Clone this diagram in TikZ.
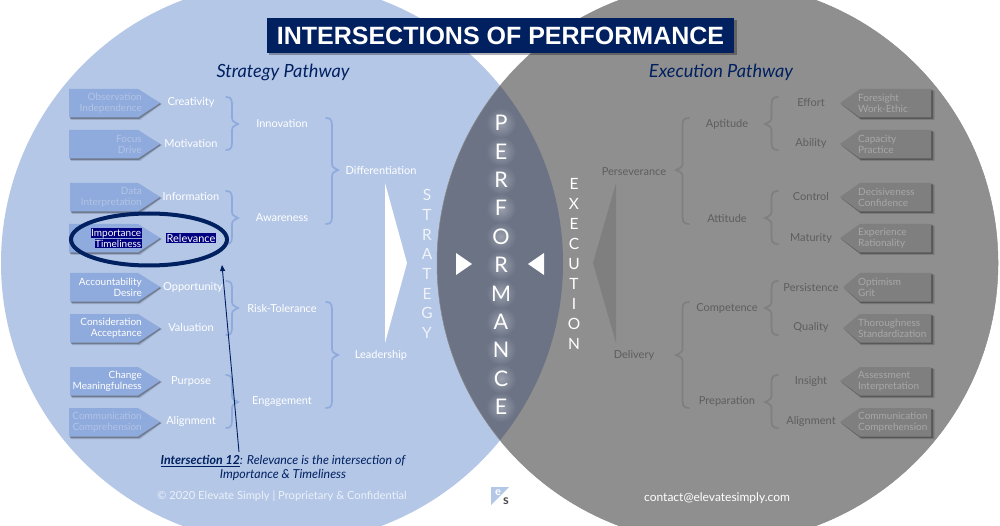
\documentclass[tikz,border=0pt]{standalone}
\usepackage{fontspec}
\setmainfont{Lato}
\newfontfamily\titlefont{Liberation Sans}
\usetikzlibrary{fadings,arrows.meta}
\definecolor{lblue}{HTML}{B4C7E7}
\definecolor{rgrey}{HTML}{8F8F8F}
\definecolor{lensc}{HTML}{6B7385}
\definecolor{navy}{HTML}{002060}
\definecolor{chevl}{HTML}{8FAADC}
\definecolor{chevr}{HTML}{7F7F7F}
\definecolor{darkt}{HTML}{5E5E5E}
\definecolor{fadet}{HTML}{B2C4E5}
\definecolor{fadeg}{HTML}{A8A8A8}
\definecolor{hilite}{HTML}{000080}
\tikzfading[name=glowfade, inner color=transparent!68, outer color=transparent!100]
\newcommand\fs[2]{\fontsize{#1}{#2}\selectfont}
\tikzset{
  x=1pt,y=-1pt,
  lab/.style={text=white,font=\fs{11}{13},inner sep=0pt},
  rlab/.style={text=darkt,font=\fs{11}{13},inner sep=0pt},
  chl/.style={font=\fs{10}{11},align=right,anchor=east,inner sep=0pt},
  chr/.style={font=\fs{10}{11},align=left,anchor=west,inner sep=0pt,text=fadeg},
  lbrace/.style={draw=chevl,line width=1.7pt,line cap=round},
  rbrace/.style={draw=chevr,line width=1.7pt,line cap=round},
  stack/.style={align=center,inner sep=0pt,text=white},
}
\newcommand\lchev[5][69]{%
  \fill[black,opacity=.14] (#1+2,#2+3) -- (140,#2+3) -- (162,#2+15) -- (140,#2+31) -- (#1+2,#2+31) -- cycle;
  \fill[black,opacity=.28] (#1+1,#2+1) -- (139,#2+1) -- (161,#2+15) -- (139,#2+30) -- (#1+1,#2+30) -- cycle;
  \fill[chevl] (#1,#2) -- (138,#2) -- (160,#2+14) -- (138,#2+28.5) -- (#1,#2+28.5) -- cycle;
  \node[chl,text=#3] (#4) at (142,#2+14) {#5};
}
\newcommand\rchev[4][840]{%
  \fill[black,opacity=.14] (#1+2,#2+16) -- (861,#2+2) -- (934.5,#2+2) -- (934.5,#2+31) -- (861,#2+31) -- cycle;
  \fill[black,opacity=.28] (#1+1,#2+15) -- (861,#2+1) -- (933,#2+1) -- (933,#2+30) -- (861,#2+30) -- cycle;
  \fill[chevr] (#1,#2+14) -- (860,#2) -- (931,#2) -- (931,#2+28.5) -- (860,#2+28.5) -- cycle;
  \node[chr] (#3) at (858,#2+14) {#4};
}
\newcommand\mybrace[6]{%
  \draw[#1] (#2,#4) .. controls ({(#2+#3)/2},#4) and ({(#2+#3)/2},#4+3) .. ({(#2+#3)/2},#4+11)
    -- ({(#2+#3)/2},#5-9) .. controls ({(#2+#3)/2},#5-3) .. (#3,#5)
    .. controls ({(#2+#3)/2},#5+3) .. ({(#2+#3)/2},#5+9)
    -- ({(#2+#3)/2},#6-11) .. controls ({(#2+#3)/2},#6-3) and ({(#2+#3)/2},#6) .. (#2,#6);
}
\newcommand\hl[1]{{\setlength{\fboxsep}{0.6pt}\colorbox{hilite}{#1}}}
\begin{document}
\begin{tikzpicture}
\useasboundingbox (0,0) rectangle (1000,526);
\fill[white] (0,0) rectangle (1000,526);
\fill[lblue] (282,263) circle[radius=281];
\fill[rgrey] (717.5,263) circle[radius=280.5];
\begin{scope}
  \clip (282,263) circle[radius=281];
  \fill[lensc] (717.5,263) circle[radius=280.5];
\end{scope}
\draw[black!45,line width=.5pt] (717.5,263) circle[radius=280.5];
\fill[black,opacity=.3] (269,20) rectangle (736.5,55.5);
\node[fill=navy,text=white,minimum width=467pt,minimum height=35pt,inner sep=0pt,
  font=\titlefont\bfseries\fs{25}{28}] (title) at (500.5,35.5) {INTERSECTIONS OF PERFORMANCE};
\node[text=navy,font=\itshape\fs{18.2}{20},inner sep=0pt] (strat) at (283,72) {Strategy Pathway};
\node[text=navy,font=\itshape\fs{18.2}{20},inner sep=0pt] (exec) at (721,72) {Execution Pathway};
\lchev{89}{fadet}{c1}{Observation\\Independence}
\lchev{130}{fadet}{c2}{Focus\\Drive}
\lchev[70]{183}{fadet}{c3}{Data\\Interpretation}
\lchev{224}{white}{c4}{\hl{Importance}\\\hl{Timeliness}}
\lchev[70]{273}{white}{c5}{Accountability\\Desire}
\lchev[70]{314}{white}{c6}{Consideration\\Acceptance}
\lchev[70]{367}{white}{c7}{Change\\Meaningfulness}
\lchev{408}{fadet}{c8}{Communication\\Comprehension}
\node[lab] (l1) at (191,102.5) {Creativity};
\node[lab] (l2) at (191,143.5) {Motivation};
\node[lab] (l3) at (191,196.5) {Information};
\node[lab] (l4) at (191,238) {\hl{Relevance}};
\node[lab] (l5) at (193,287.5) {Opportunity};
\node[lab] (l6) at (191,327.5) {Valuation};
\node[lab] (l7) at (191,381.5) {Purpose};
\node[lab] (l8) at (191,421.5) {Alignment};
\node[lab] (m1) at (282,123.5) {Innovation};
\node[lab] (m2) at (282,217.5) {Awareness};
\node[lab] (m3) at (282,308.5) {Risk-Tolerance};
\node[lab] (m4) at (282,401.5) {Engagement};
\node[lab] (n1) at (381,170.5) {Differentiation};
\node[lab] (n2) at (381,355.5) {Leadership};
\mybrace{lbrace}{226}{238}{97}{124}{150}
\mybrace{lbrace}{226}{238}{191}{218}{244}
\mybrace{lbrace}{226}{238}{281}{308}{335}
\mybrace{lbrace}{226}{238}{375}{402}{428}
\mybrace{lbrace}{326}{338}{118}{170}{224}
\mybrace{lbrace}{326}{338}{302}{355}{408}
\rchev{89}{r1}{Foresight\\Work-Ethic}
\rchev{130}{r2}{Capacity\\Practice}
\rchev{183}{r3}{Decisiveness\\Confidence}
\rchev{224}{r4}{Experience\\Rationality}
\rchev[843]{273}{r5}{Optimism\\Grit}
\rchev[843]{314}{r6}{Thoroughness\\Standardization}
\rchev{367}{r7}{Assessment\\Interpretation}
\rchev{408}{r8}{Communication\\Comprehension}
\node[rlab] (p1) at (811,102.5) {Effort};
\node[rlab] (p2) at (811,143.5) {Ability};
\node[rlab] (p3) at (811,196.5) {Control};
\node[rlab] (p4) at (811,238.5) {Maturity};
\node[rlab] (p5) at (811,287.5) {Persistence};
\node[rlab] (p6) at (811,327.5) {Quality};
\node[rlab] (p7) at (811,381.5) {Insight};
\node[rlab] (p8) at (811,421.5) {Alignment};
\node[rlab] (q1) at (727,124.5) {Aptitude};
\node[rlab] (q2) at (727,218.5) {Attitude};
\node[rlab] (q3) at (727,308.5) {Competence};
\node[rlab] (q4) at (727,401.5) {Preparation};
\node[rlab] (s1) at (634,171.5) {Perseverance};
\node[rlab] (s2) at (634,355.5) {Delivery};
\mybrace{rbrace}{778}{765}{97}{124}{150}
\mybrace{rbrace}{778}{765}{191}{218}{244}
\mybrace{rbrace}{778}{765}{281}{308}{335}
\mybrace{rbrace}{778}{765}{375}{402}{428}
\mybrace{rbrace}{689}{676}{118}{170}{224}
\mybrace{rbrace}{689}{676}{302}{355}{408}
\fill[white] (385,183) -- (407,263) -- (385,343) -- cycle;
\fill[chevr] (616,183) -- (593,263) -- (616,343) -- cycle;
\fill[white] (456,253) -- (472,264) -- (456,275) -- cycle;
\fill[white] (544,253) -- (528,264) -- (544,275) -- cycle;
\node[stack,text=white!80!lblue,font=\fs{15.5}{19.7}] (sv) at (427,264) {S\\T\\R\\A\\T\\E\\G\\Y};
\node[stack,font=\fs{15.5}{20}] (ev) at (574,264) {E\\X\\E\\C\\U\\T\\I\\O\\N};
\foreach \yy in {123,151.4,...,408}
  \fill[white,path fading=glowfade] (501,\yy) ellipse[x radius=15,y radius=15];
\node[stack,font=\fs{21.5}{28.4}] (pv) at (501,265) {P\\E\\R\\F\\O\\R\\M\\A\\N\\C\\E};
\draw[navy,line width=4pt] (149,239.5) ellipse[x radius=78,y radius=26];
\node[text=navy,align=center,inner sep=0pt,font=\itshape\fs{12.4}{14}] (note) at (283,468)
  {\underline{\textbf{Intersection 12}}: Relevance is the intersection of\\Importance \& Timeliness};
\coordinate (noteTop) at (239,452);
\coordinate (ovalBot) at (222,265);
\draw[navy,line width=.9pt,-{Triangle[length=6pt,width=5pt]}] (noteTop) -- (ovalBot);
\node[text=white!75!lblue,font=\fs{11.2}{14},inner sep=0pt] (copy) at (282,496) {© 2020 Elevate Simply | Proprietary \& Confidential};
\node[text=white,font=\fs{12}{14},inner sep=0pt] (contact) at (717,498) {contact@elevatesimply.com};
\fill[lblue] (491,487) -- (509,487) -- (491,505) -- cycle;
\node[text=white,font=\bfseries\fs{11}{12},inner sep=0pt] (loge) at (498,492.5) {e};
\node[text=black!70,font=\bfseries\fs{13}{14},inner sep=0pt] (logs) at (506,501) {s};
\end{tikzpicture}
\end{document}
